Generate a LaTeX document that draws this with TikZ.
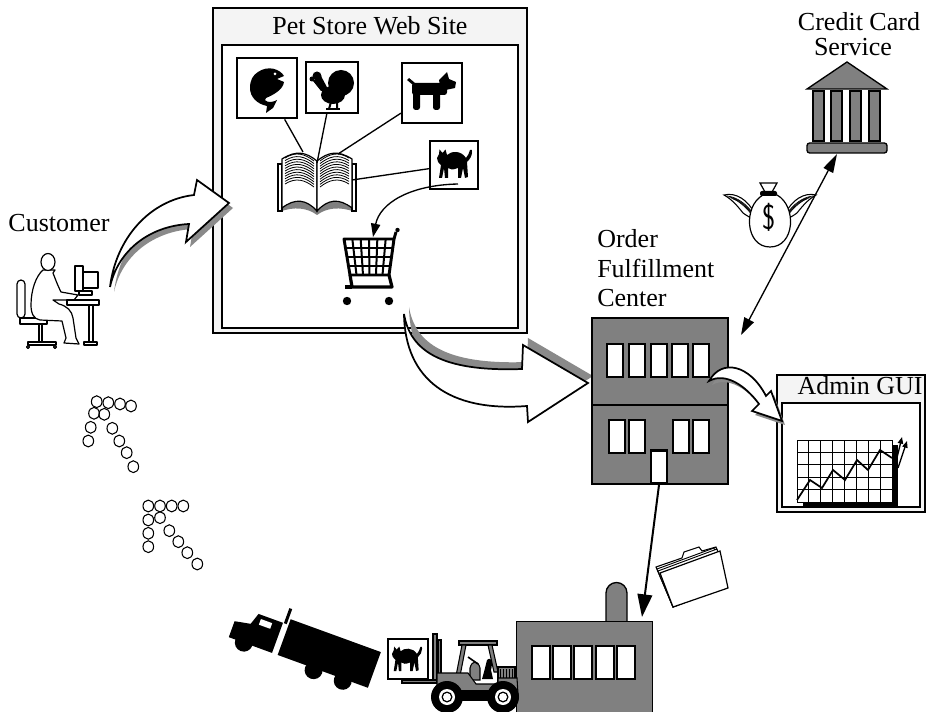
\documentclass[tikz,border=0pt]{standalone}
\usepackage{fontspec}
\setmainfont{Liberation Serif}
\usetikzlibrary{arrows.meta,calc}
\definecolor{bgray}{HTML}{808080}
\definecolor{shade}{HTML}{8A8A8A}
\definecolor{titlebg}{HTML}{F4F4F4}
\begin{document}
\begin{tikzpicture}[x=0.75pt,y=-0.75pt,
  lbl/.style={font=\fontsize{19.5}{21}\selectfont, inner sep=0pt},
  iconbox/.style={draw, line width=1.6pt, fill=white, inner sep=0pt},
  bld/.style={fill=bgray, draw=black, line width=1pt},
  pane/.style={fill=white, draw=black, line width=2pt, inner sep=0pt},
  fatarrow/.style={fill=white, draw=black, line width=1.3pt, line join=miter},
  fatshadow/.style={fill=shade},
  link/.style={line width=1pt},
  dots/.style={draw, line width=0.8pt},
  outline/.style={draw, fill=white, line width=0.9pt, line join=round},
  blackcat/.pic={
    \fill (2,4) -- (2.5,-0.5) -- (5.5,3) -- (8.5,-0.5) -- (10,5)
      .. controls (14,1) and (24,0) .. (29,8)
      .. controls (31,6) and (32,3) .. (33,0)
      .. controls (34,-1) and (36,0) .. (35,2)
      .. controls (35,6) and (33,9) .. (30,12)
      -- (31,27) -- (28,28) -- (26,18) -- (24,28) -- (21,28) -- (21,18)
      .. controls (16,20) and (13,20) .. (11,18)
      -- (11,28) -- (8,28) -- (7,18) -- (5,28) -- (2,28) -- (4,15)
      .. controls (1,13) and (0,10) .. (0,8) -- cycle;
  },
]
\useasboundingbox (0,0) rectangle (927,712);
\fill[white] (0,0) rectangle (927,712);

% ---------------- Pet store web site window ----------------
\draw[line width=0.8pt, fill=titlebg] (213,8) rectangle (527,333);
\draw[line width=1.5pt, fill=white] (222,45) rectangle (518,328);
\node[lbl] (storetitle) at (370,26) {Pet Store Web Site};

% catalogue icons
\node[iconbox, line width=2.1pt, minimum width=45pt, minimum height=45pt] (fishbox) at (267,88) {};
\node[iconbox, minimum width=39pt, minimum height=38pt] (turkeybox) at (332,87.5) {};
\node[iconbox, minimum width=45pt, minimum height=45pt] (dogbox) at (432,93) {};
\node[iconbox, minimum width=36pt, minimum height=36pt] (catbox) at (454,165) {};

% fish
\fill (258,72) .. controls (268,65) and (280,69) .. (284,76) -- (277,79) -- (284,82)
  .. controls (283,90) and (273,95) .. (266,98)
  .. controls (262,101) and (270,104) .. (277,100) -- (273,108) -- (266,113) -- (267,106)
  .. controls (257,104) and (250,97) .. (250,88)
  .. controls (250,80) and (253,75) .. (258,72) -- cycle;
\fill[white] (275,74) circle (1.5);
% turkey
\fill (341,83) circle (13);
\fill (333,95) ellipse (12 and 9);
\fill (313,81) -- (321,91) -- (329,91) -- (321,76) -- cycle;
\fill (317,76) circle (4.5);
\fill (312,79) circle (2.5);
\draw[line width=1.5pt] (331,102) -- (329,109) (337,102) -- (337,109);
\draw[line width=1.2pt] (326,109) -- (340,109);
% dog
\fill[rounded corners=2] (412,83) rectangle (447,95);
\fill[rounded corners=2] (413,90) rectangle (420,110);
\fill[rounded corners=2] (433,90) rectangle (440,110);
\fill (439,80) -- (447,72) -- (449,79) -- (456,82) -- (455,88) -- (441,91) -- cycle;
\fill (413,85) -- (407,80) -- (409,78) -- (415,83) -- cycle;
% cat
\pic at (437,150) {blackcat};

% open catalogue book
\fill[bgray] (280,206) .. controls (295,196) and (308,201) .. (317,211)
  .. controls (326,201) and (339,196) .. (354,206) -- (355,212)
  .. controls (340,206) and (326,208) .. (317,215)
  .. controls (308,208) and (294,206) .. (279,212) -- cycle;
\draw[line width=0.9pt, fill=white] (278,164) rectangle (282,211);
\draw[line width=0.9pt, fill=white] (352,164) rectangle (356,211);
\draw[line width=0.9pt, fill=white] (282,208) -- (282,159)
  .. controls (296,150) and (306,152) .. (317,161) -- (317,211)
  .. controls (306,199) and (295,198) .. (282,208) -- cycle;
\draw[line width=0.9pt, fill=white] (352,208) -- (352,159)
  .. controls (338,150) and (328,152) .. (317,161) -- (317,211)
  .. controls (328,199) and (339,198) .. (352,208) -- cycle;
\foreach \i in {0,...,10} {
  \draw[line width=0.6pt] (285,158+2.6*\i) .. controls (296,151+2.6*\i) and (305,154+2.6*\i) .. (314,161+2.6*\i);
  \draw[line width=0.6pt] (349,158+2.6*\i) .. controls (338,151+2.6*\i) and (329,154+2.6*\i) .. (320,161+2.6*\i);
}
\coordinate (bookA) at (303,152);
\coordinate (bookB) at (317,163);
\coordinate (bookC) at (338,154);
\coordinate (bookD) at (352,180);
\draw[link] (fishbox) -- (bookA);
\draw[link] (turkeybox) -- (bookB);
\draw[link] (dogbox) -- (bookC);
\draw[link] (catbox) -- (bookD);

% shopping cart
\draw[line width=2.2pt, fill=white, line join=round] (344,239) -- (394,239) -- (389,275) -- (350,275) -- cycle;
\foreach \t in {1,...,5}
  \draw[line width=1.5pt] ($(344,239)!\t/6!(394,239)$) -- ($(350,275)!\t/6!(389,275)$);
\foreach \t in {1,2,3}
  \draw[line width=1.5pt] ($(344,239)!\t/4!(350,275)$) -- ($(394,239)!\t/4!(389,275)$);
\draw[line width=2.2pt] (394,239) -- (396,232);
\fill (397.5,230) circle (2.2);
\draw[line width=2.4pt, line join=round] (350,275) -- (352,287) -- (392,287) -- (389,275);
\draw[line width=2.4pt] (345,287) -- (352,287);
\fill (347,301) circle (4.2);
\fill (389,301) circle (4.2);
\coordinate (cartin) at (373,237);
\coordinate (catout) at (458,184);
\draw[link, -{Triangle[length=10pt,width=7pt]}] (catout) .. controls (410,185) and (380,203) .. (cartin);

% ---------------- Customer ----------------
\node[lbl] (customer) at (59,223) {Customer};
% chair
\draw[outline, rounded corners=3] (17,280) rectangle (25,318);
\draw[outline] (20,318) rectangle (47,324);
\draw[outline] (39,324) rectangle (42,342);
\draw[outline] (28,342) rectangle (56,345);
\draw[outline] (28,347) circle (1.5) (55,347) circle (1.5);
% person
\draw[outline] (43,270) .. controls (36,276) and (31,290) .. (31,305)
  .. controls (31,314) and (34,319) .. (40,320)
  -- (62,321) -- (66,338) -- (64,343) -- (79,344) -- (76,338) -- (73,318)
  .. controls (72,311) and (67,306) .. (59,304)
  -- (53,300) -- (74,300) -- (78,295) -- (61,292)
  .. controls (57,284) and (55,278) .. (53,273)
  -- (55,270) -- cycle;
\draw[outline] (48,262) ellipse (7 and 8.5);
% desk and monitor
\draw[outline] (67,300) rectangle (99,305);
\draw[outline] (89,305) rectangle (93,342);
\draw[outline] (84,342) rectangle (97,345);
\draw[outline] (83,272) rectangle (98,288);
\draw[outline] (75,266) rectangle (83,291);
\draw[outline] (79,291) rectangle (92,295);

% fat arrow: customer to web site
\fill[fatshadow] ([shift={(4,5)}]110,287) .. controls ([shift={(4,5)}]116,238) and ([shift={(4,5)}]150,200) .. ([shift={(4,5)}]194,195)
  -- ([shift={(4,5)}]197,180) -- ([shift={(4,5)}]229,203) -- ([shift={(4,5)}]186,242) -- ([shift={(4,5)}]189,224)
  .. controls ([shift={(4,5)}]150,226) and ([shift={(4,5)}]118,250) .. ([shift={(4,5)}]110,287) -- cycle;
\draw[fatarrow] (110,287) .. controls (116,238) and (150,200) .. (194,195)
  -- (197,180) -- (229,203) -- (186,242) -- (189,224)
  .. controls (150,226) and (118,250) .. (110,287) -- cycle;

% fat arrow: cart to order fulfillment
\fill[fatshadow] ([shift={(5,-7)}]404,314) .. controls ([shift={(5,-7)}]410,350) and ([shift={(5,-7)}]440,372) .. ([shift={(5,-7)}]522,369)
  -- ([shift={(5,-7)}]523,345) -- ([shift={(5,-7)}]588,383) -- ([shift={(5,-7)}]528,422) -- ([shift={(5,-7)}]527,406)
  .. controls ([shift={(5,-7)}]450,412) and ([shift={(5,-7)}]405,380) .. ([shift={(5,-7)}]404,314) -- cycle;
\draw[fatarrow] (404,314) .. controls (410,350) and (440,372) .. (522,369)
  -- (523,345) -- (588,383) -- (528,422) -- (527,406)
  .. controls (450,412) and (405,380) .. (404,314) -- cycle;

% ---------------- Order fulfillment center ----------------
\node[lbl, anchor=base west] (ord1) at (597,248) {Order};
\node[lbl, anchor=base west] (ord2) at (597,278) {Fulfillment};
\node[lbl, anchor=base west] (ord3) at (597,307) {Center};
\node[bld, minimum width=102pt, minimum height=124.5pt, inner sep=0pt] (ofc) at (660,401) {};
\draw[line width=1pt] (592,405) -- (728,405);
\foreach \wx in {607,629,651,672,693}
  \draw[pane] (\wx,344) rectangle ++(16,33);
\foreach \wx in {609,629,673,693}
  \draw[pane] (\wx,420) rectangle ++(16,33);
\node[pane, minimum width=12pt, minimum height=25pt] (door) at (659,467) {};

% ---------------- Credit card service ----------------
\node[lbl, anchor=base] (cc1) at (859,31) {Credit Card};
\node[lbl, anchor=base] (cc2) at (853,56) {Service};
\filldraw[bld] (807,89) -- (847,62) -- (887,89) -- cycle;
\foreach \cx in {813,831,850,869}
  \filldraw[bld] (\cx,91) rectangle ++(11,50);
\node[bld, rounded corners=2pt, minimum width=60pt, minimum height=7.5pt, inner sep=0pt] (bankbase) at (847,148) {};
\coordinate (cardtip) at (837,154);
\coordinate (ordertip) at (741,335);
\draw[line width=1pt, {Triangle[length=13pt,width=8pt]}-{Triangle[length=14pt,width=8pt]}] (ordertip) -- (cardtip);

% money bag with wings
\begin{scope}
  \draw[line width=0.8pt, fill=white] (755,214) .. controls (748,200) and (736,192) .. (724,195)
    .. controls (733,200) and (739,208) .. (743,213) .. controls (747,216) and (751,218) .. (755,220) -- cycle;
  \foreach \k in {0,1,2,3}
    \draw[line width=0.5pt] (754,215+\k) .. controls (747,204+\k) and (737,197+\k) .. (727+2*\k,196+\k);
\end{scope}
\begin{scope}[shift={(1540,0)}, xscale=-1]
  \draw[line width=0.8pt, fill=white] (755,214) .. controls (748,200) and (736,192) .. (724,195)
    .. controls (733,200) and (739,208) .. (743,213) .. controls (747,216) and (751,218) .. (755,220) -- cycle;
  \foreach \k in {0,1,2,3}
    \draw[line width=0.5pt] (754,215+\k) .. controls (747,204+\k) and (737,197+\k) .. (727+2*\k,196+\k);
\end{scope}
\draw[line width=0.9pt, fill=white] (763,195) .. controls (743,206) and (745,247) .. (770,247)
  .. controls (795,247) and (797,206) .. (777,195) -- cycle;
\draw[line width=0.9pt, fill=white] (760,183) -- (777,183) -- (772,192) -- (765,192) -- cycle;
\fill[rounded corners=1.5] (760,191) rectangle (777,196);
\node[font=\sffamily\fontsize{21}{21}\selectfont, yscale=1.25, transform shape, inner sep=0pt] (dollar) at (769,217) {\$};

% ---------------- Admin GUI ----------------
\draw[line width=0.8pt, fill=titlebg] (777,375) rectangle (925,512);
\draw[line width=1.5pt, fill=white] (782,403) rectangle (920,507);
\node[lbl, anchor=base] (admintitle) at (860,395) {Admin GUI};
\fill (803,502) rectangle (898,508);
\fill (892,445) rectangle (898,508);
\fill[white] (797,440) rectangle (892,502);
\foreach \i in {0,...,8}
  \draw[line width=0.6pt] (797+11.875*\i,440) -- (797+11.875*\i,502);
\foreach \j in {0,...,5}
  \draw[line width=0.6pt] (797,440+12.4*\j) -- (892,440+12.4*\j);
\draw[line width=1.3pt, line join=miter] (797,500) -- (810,480) -- (822,488) -- (833,470) -- (845,480)
  -- (857,460) -- (868,470) -- (880,450) -- (892,458);
\draw[line width=1pt, -{Triangle[length=5pt,width=4pt]}] (895,466) -- (902,437);
\draw[line width=1pt, -{Triangle[length=5pt,width=4pt]}] (898,468) -- (907,441);

% ---------------- Warehouse ----------------
\filldraw[bld] (606,623) -- (606,593) arc[start angle=180, end angle=360, radius=10.5] -- (627,623) -- cycle;
\node[bld, minimum width=102pt, minimum height=70pt, inner sep=0pt, anchor=north west] (warehouse) at (516,621) {};
\foreach \wx in {532,553,574,596,617}
  \draw[pane] (\wx,646) rectangle ++(18,33);
\coordinate (whin) at (642,617);
\draw[line width=1.5pt, -{Triangle[length=17pt,width=11pt]}] (door.south) -- (whin);

% folder of order papers
\draw[line width=0.8pt, fill=white] (656,567) -- (682,558) -- (684,552) -- (699,547) -- (702,551) -- (716,547) -- (727,586) -- (673,607) -- cycle;
\draw[line width=0.7pt, fill=white] (657,569) -- (714,548) -- (726,586) -- (673,607) -- cycle;
\draw[line width=0.7pt, fill=white] (658,571) -- (717,549) -- (727,587) -- (673,607) -- cycle;
\draw[line width=0.9pt, fill=white] (660,573) -- (720,551) -- (728,588) -- (673,607) -- cycle;

% forklift with a crate
\node[draw, line width=1.5pt, fill=white, minimum width=30pt, minimum height=30pt, inner sep=0pt] (crate) at (407.5,659) {};
\pic[scale=0.86] at (392,647) {blackcat};
\draw[line width=0.8pt, fill=bgray] (433,634) rectangle (437,683);
\draw[line width=0.8pt, fill=bgray] (438,640) rectangle (441,683);
\draw[line width=0.8pt, fill=bgray] (402,680) rectangle (437,683);
\draw[line width=0.8pt, fill=bgray] (459,641) rectangle (497,645);
\draw[line width=0.8pt, fill=bgray] (462,645) -- (466,645) -- (460,676) -- (456,676) -- cycle;
\draw[line width=0.8pt, fill=bgray] (488,645) -- (492,645) -- (498,672) -- (494,672) -- cycle;
\draw[line width=0.8pt, fill=bgray] (498,667) rectangle (515,682);
\foreach \gx in {500,503,...,513}
  \draw[line width=0.6pt] (\gx,669) -- (\gx,681);
\draw[line width=0.8pt, fill=bgray] (470,668) .. controls (472,660) and (478,660) .. (480,668) -- (480,680) -- (470,680) -- cycle;
\draw[line width=1.2pt] (468,657) -- (478,664);
\fill (487,660) .. controls (492,656) and (493,662) .. (491,670) -- (493,679) -- (482,679) -- (484,672) -- cycle;
\draw[line width=0.8pt, fill=bgray] (437,673) -- (468,673) -- (476,684) -- (498,684) -- (498,678) -- (517,678) -- (518,694) -- (437,694) -- cycle;
\fill (440,690) rectangle (515,701);
\foreach \wc in {447,503} {
  \fill (\wc,697) circle (16);
  \fill[white] (\wc,697) circle (8);
  \fill (\wc,697) circle (5.5);
  \fill[white] (\wc,697) circle (4);
}

% delivery truck
\begin{scope}[shift={(305,650)}, rotate=-20]
  \fill (-24,-24) rectangle (72,14);
  \fill (-30,-18) -- (-30,14) -- (-76,14) -- (-76,-3) -- (-60,-6) -- (-56,-18) -- cycle;
  \fill[white] (-52,-14) rectangle (-40,-8);
  \fill (-29,-34) rectangle (-26,-18);
  \fill (-60,14) circle (9);
  \fill (15,16) circle (9);
  \fill (46,16) circle (9);
\end{scope}

% footprints back to the customer
\foreach \p in {(96.7,401.7),(108.3,402.7),(120,404),(131,406),(94,413.3),(104.3,414.3),
  (90.7,427.3),(112.3,428.3),(88.3,441),(119.3,441),(126.7,452.7),(133.3,466.7),
  (148.3,506),(160,506),(171.7,506),(183.3,506),(148.3,520),(160,517.7),
  (148.3,533.3),(169.3,530.7),(148.3,546.7),(178.3,541.7),(187.3,552.7),(197.3,564)}
  \draw[dots] \p ellipse (5.3 and 5.9);

% fat arrow: order fulfillment to admin GUI
\fill[fatshadow] ([shift={(3,4)}]709,381) .. controls ([shift={(3,4)}]722,358) and ([shift={(3,4)}]750,365) .. ([shift={(3,4)}]766,396)
  -- ([shift={(3,4)}]771,391) -- ([shift={(3,4)}]782,421) -- ([shift={(3,4)}]752,411) -- ([shift={(3,4)}]759,404)
  .. controls ([shift={(3,4)}]745,385) and ([shift={(3,4)}]725,372) .. ([shift={(3,4)}]709,381) -- cycle;
\draw[fatarrow] (709,381) .. controls (722,358) and (750,365) .. (766,396)
  -- (771,391) -- (782,421) -- (752,411) -- (759,404)
  .. controls (745,385) and (725,372) .. (709,381) -- cycle;
\end{tikzpicture}
\end{document}
